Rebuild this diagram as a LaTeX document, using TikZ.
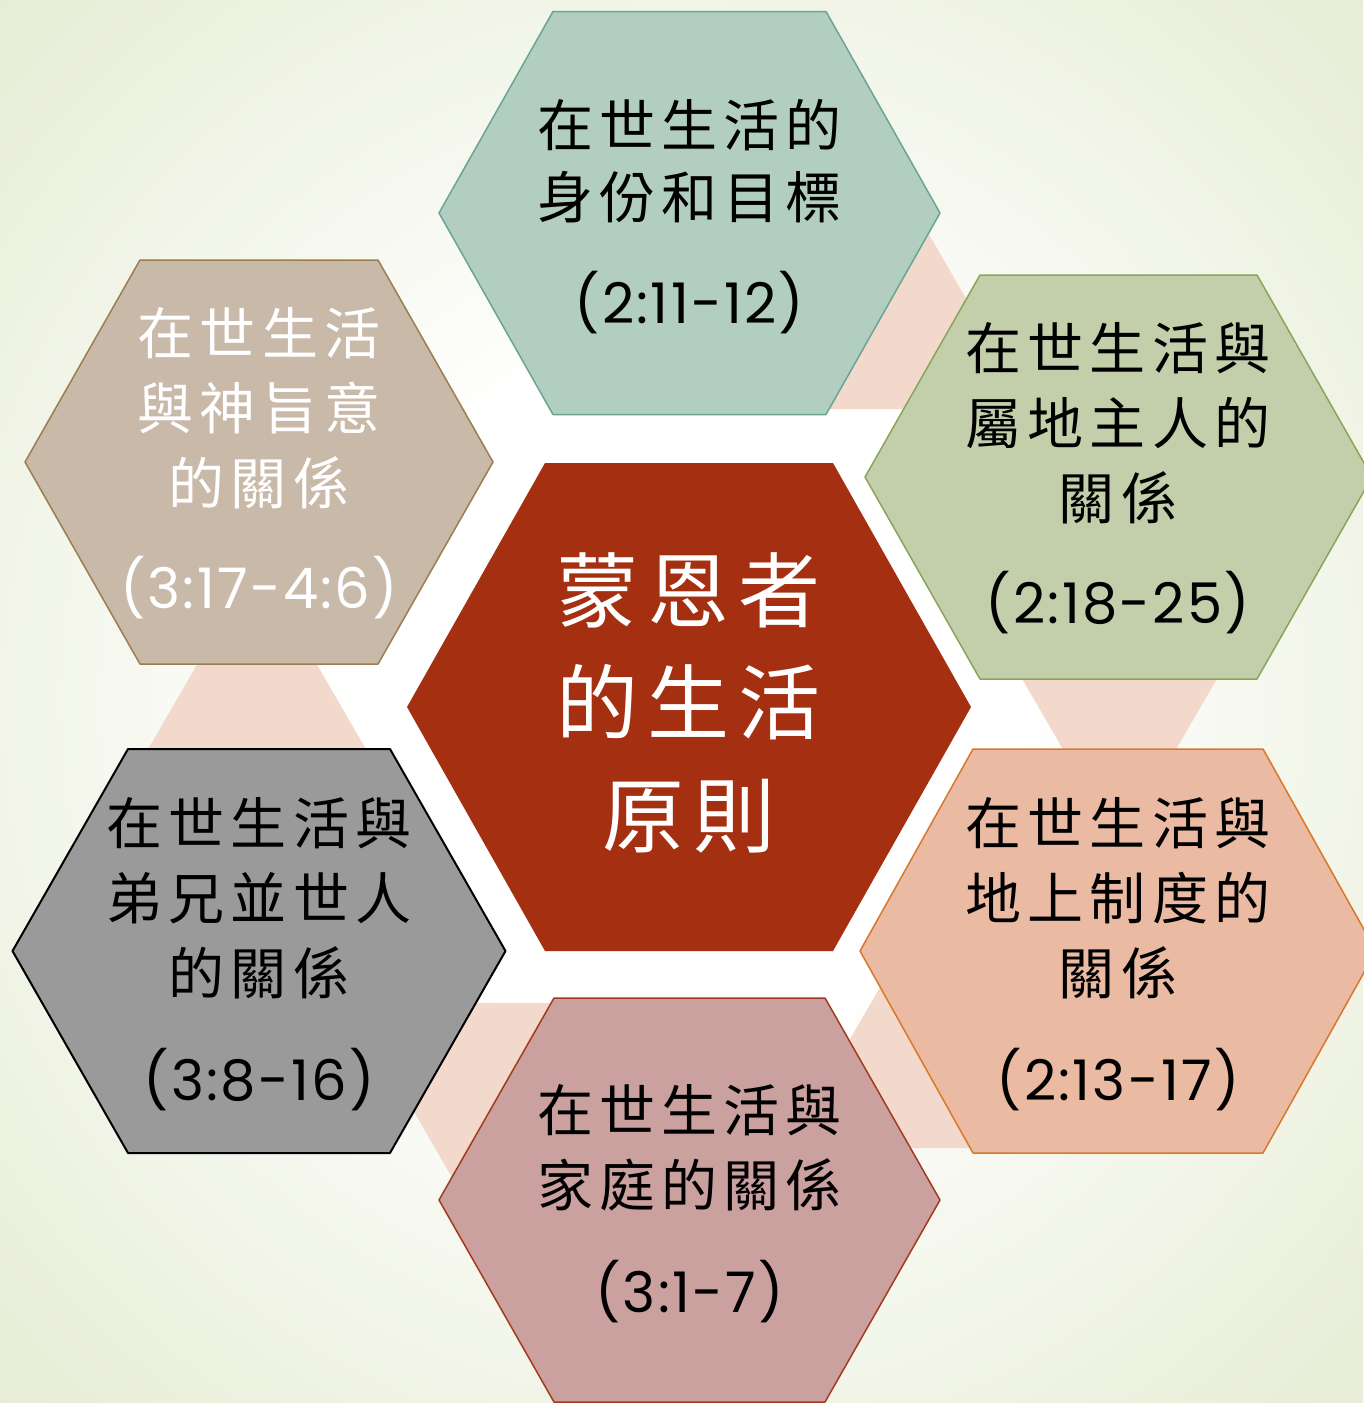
\documentclass[tikz,border=0pt]{standalone}
\usepackage{fontspec}
\newfontfamily\cjk[LetterSpace=11]{Noto Sans CJK TC}
\newfontfamily\versefont[LetterSpace=4]{Poppins}
\definecolor{bgout}{HTML}{E6ECD4}
\definecolor{linkpink}{HTML}{F3D8CC}
\definecolor{tealfill}{HTML}{B2CEC1}\definecolor{tealline}{HTML}{6AA594}
\definecolor{greenfill}{HTML}{C3CFAA}\definecolor{greenline}{HTML}{8AA55A}
\definecolor{salmonfill}{HTML}{EBBAA2}\definecolor{salmonline}{HTML}{D9782A}
\definecolor{rosefill}{HTML}{CBA1A0}\definecolor{roseline}{HTML}{A33A1F}
\definecolor{grayfill}{HTML}{9A9A9A}
\definecolor{tanfill}{HTML}{C8B9A9}\definecolor{tanline}{HTML}{9A7E50}
\definecolor{centrefill}{HTML}{A52F11}
\pgfdeclareradialshading{bgshade}{\pgfpoint{0bp}{0bp}}{color(0bp)=(white);color(12bp)=(white);color(36bp)=(bgout);color(50bp)=(bgout)}
% hexagon: style, centre x, centre y, half width, half top, half height
\newcommand\hexa[6]{\filldraw[#1] (#2-#4,#3) -- (#2-#5,#3-#6) -- (#2+#5,#3-#6) -- (#2+#4,#3) -- (#2+#5,#3+#6) -- (#2-#5,#3+#6) -- cycle;}
\begin{document}
\begin{tikzpicture}[x=1pt,y=-1pt,line join=round,
    hextitle/.style={align=center,inner sep=0pt,font=\cjk\fontsize{56}{75}\selectfont},
    hexverse/.style={inner sep=0pt,font=\versefont\fontsize{56}{60}\selectfont},
    link/.style={fill=linkpink,draw=none}]
    \useasboundingbox (0,0) rectangle (1363,1403);
    \shade[shading=bgshade] (0,0) rectangle (1363,1403);
    \hexa{link}{865}{314}{110}{55}{95}
    \hexa{link}{1119.5}{657}{110}{55}{95}
    \hexa{link}{952}{1053}{110}{55}{95}
    \hexa{link}{516}{1098}{110}{55}{95}
    \hexa{link}{257}{751}{110}{55}{95}
    \hexa{fill=tealfill,draw=tealline,line width=1.5pt}{689.5}{213}{250.5}{136.5}{201.5}
    \hexa{fill=greenfill,draw=greenline,line width=1.5pt}{1118.5}{477}{253.5}{138.5}{202}
    \hexa{fill=salmonfill,draw=salmonline,line width=1.5pt}{1118}{951}{258}{145}{202}
    \hexa{fill=rosefill,draw=roseline,line width=1.5pt}{689.5}{1200}{250.5}{135.5}{202}
    \hexa{fill=grayfill,draw=black,line width=2pt}{259}{951}{246.5}{131}{202}
    \hexa{fill=tanfill,draw=tanline,line width=1.5pt}{259}{462}{234}{119}{202}
    \hexa{fill=centrefill,draw=none}{689}{707}{282}{144}{244}
    \node[hextitle,font=\cjk\fontsize{56}{72}\selectfont] (identity) at (689.5,161) {在世生活的\\身份和目標};
    \node[hexverse] (identity ref) at (689.5,303) {(2:11-12)};
    \node[hextitle] (masters) at (1118,423) {在世生活與\\屬地主人的\\關係};
    \node[hexverse] (masters ref) at (1118,603) {(2:18-25)};
    \node[hextitle] (rulers) at (1118,898) {在世生活與\\地上制度的\\關係};
    \node[hexverse] (rulers ref) at (1118,1080) {(2:13-17)};
    \node[hextitle,font=\cjk\fontsize{56}{75}\selectfont] (family) at (689.5,1147.5) {在世生活與\\家庭的關係};
    \node[hexverse] (family ref) at (689.5,1292) {(3:1-7)};
    \node[hextitle] (brethren) at (259,898) {在世生活與\\弟兄並世人\\的關係};
    \node[hexverse] (brethren ref) at (259,1080) {(3:8-16)};
    \node[hextitle,text=white] (will) at (259,408) {在世生活\\與神旨意\\的關係};
    \node[hexverse,text=white] (will ref) at (259,588) {(3:17-4:6)};
    \node[hextitle,text=white,font=\cjk\fontsize{82}{112.5}\selectfont] (centre) at (689,702.5) {蒙恩者\\的生活\\原則};
\end{tikzpicture}
\end{document}
